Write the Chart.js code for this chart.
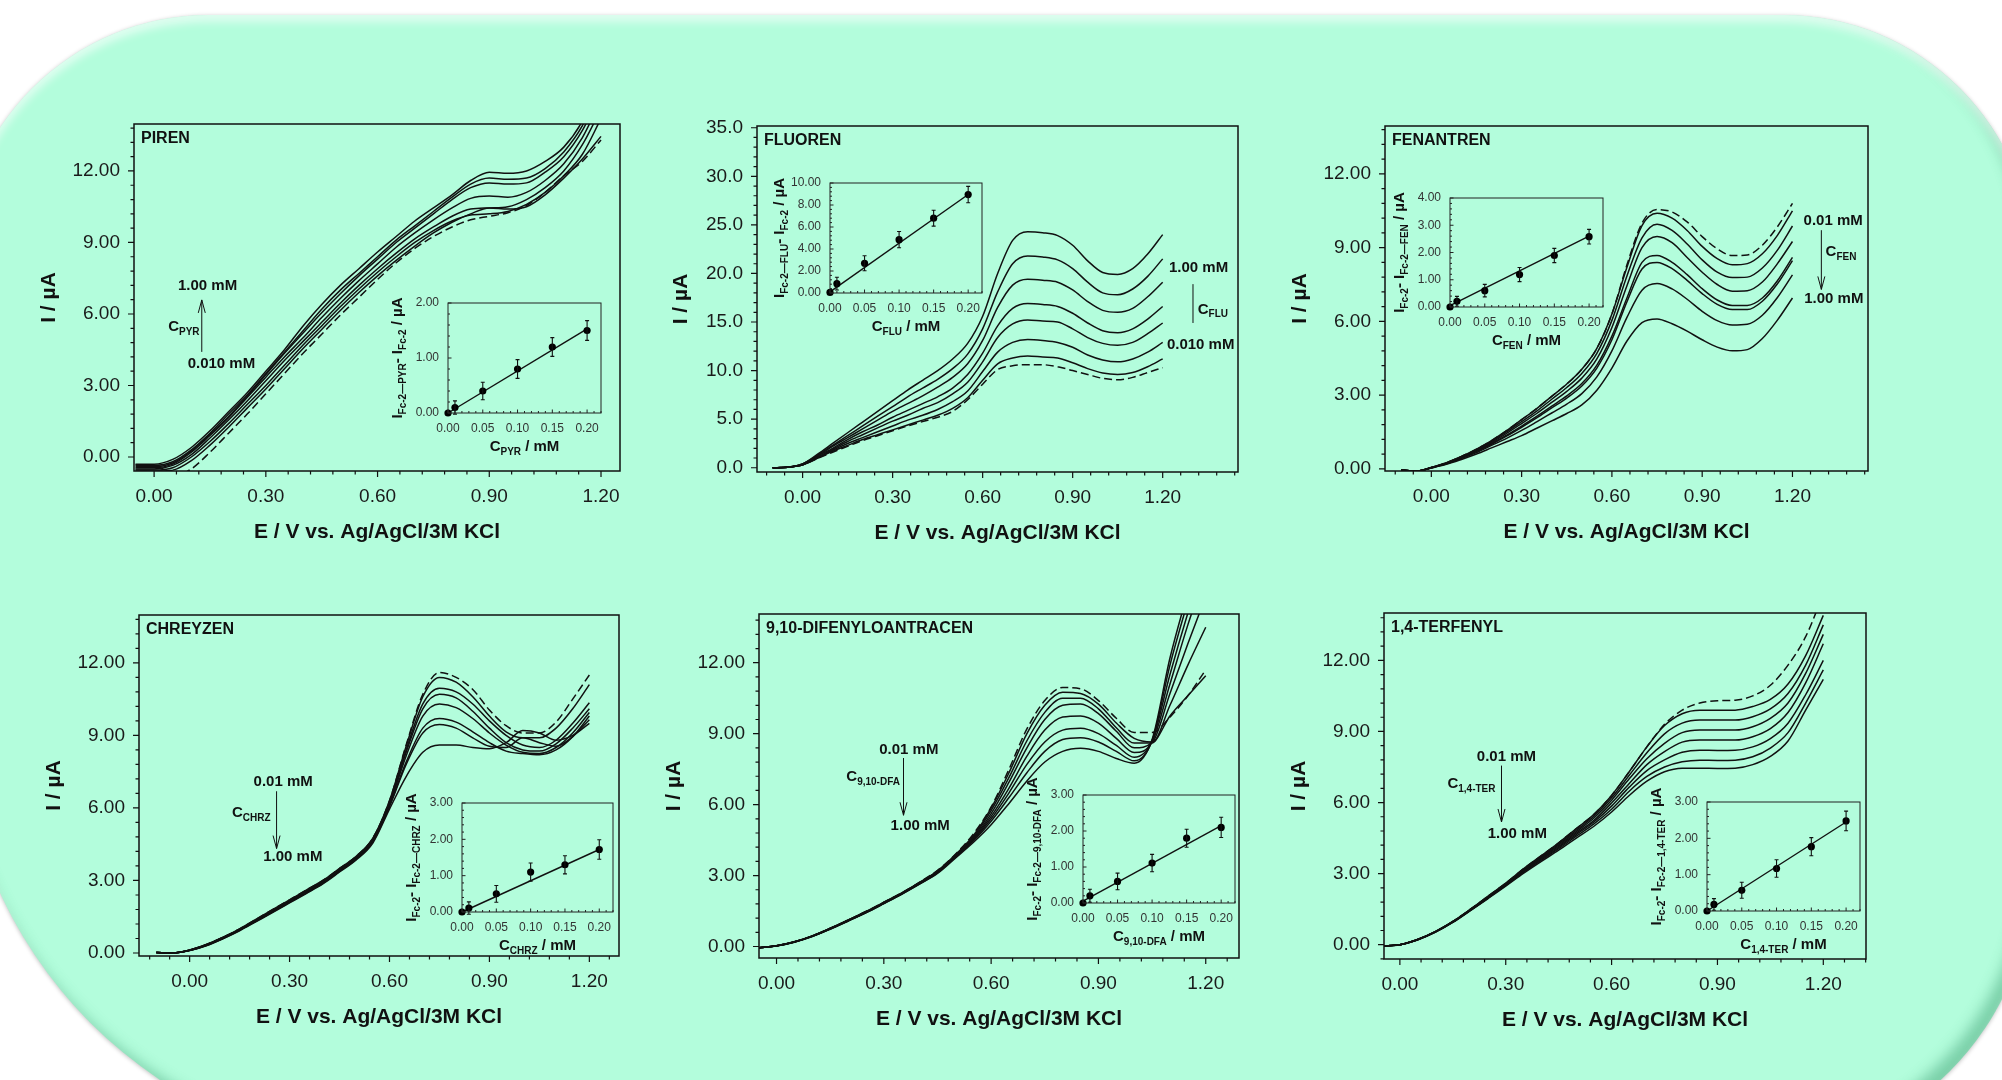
<!DOCTYPE html>
<html>
<head>
<meta charset="utf-8">
<title>Fc-2 PAH voltammograms</title>
<script src="https://cdn.jsdelivr.net/npm/chart.js@4.4.1/dist/chart.umd.min.js"></script>
<style>
  html, body { margin: 0; padding: 0; width: 2002px; height: 1080px; overflow: hidden; background: #fff; }
  #bg { position: absolute; left: -41px; top: 15px; width: 2074px; height: 1140px;
        background: #b3fddc; border-radius: 250px 250px 285px 450px;
        box-shadow: inset 0 7px 9px rgba(255,255,255,0.6), inset -9px -9px 14px rgba(50,150,105,0.45), 0 1px 4px rgba(0,0,0,0.25); }
  canvas { position: absolute; }
</style>
</head>
<body>
<div id="bg"></div>
<script>
const FONT = '"Liberation Sans", Arial, Helvetica, sans-serif';
Chart.defaults.font.family = FONT;
Chart.defaults.color = '#1a1a1a';

// tick labels
const E_TICKS = [0, 0.3, 0.6, 0.9, 1.2];
const I_TICKS = [0, 3, 6, 9, 12];
const I_TICKS_FLU = [0, 5, 10, 15, 20, 25, 30, 35];
const C_TICKS = [0, 0.05, 0.10, 0.15, 0.20];

// PIREN
const E_PIR = [-0.05,0.00,0.05,0.10,0.15,0.20,0.25,0.30,0.35,0.40,0.45,0.50,0.55,0.60,0.65,0.70,0.75,0.80,0.85,0.90,0.95,1.00,1.05,1.10,1.15,1.20];
const PIR_1 = [-0.3,-0.3,-0.1,0.4,1.1,1.9,2.7,3.6,4.5,5.5,6.4,7.2,7.9,8.6,9.25,9.9,10.45,11.0,11.6,11.95,11.9,12.0,12.4,13.0,14.1,16.0];
const PIR_2 = [-0.35,-0.35,-0.2,0.3,1.0,1.8,2.6,3.5,4.4,5.3,6.2,7.0,7.7,8.4,9.1,9.7,10.3,10.9,11.45,11.7,11.65,11.7,12.1,12.8,13.9,15.6];
const PIR_3 = [-0.4,-0.4,-0.25,0.25,0.95,1.7,2.55,3.45,4.35,5.2,6.05,6.85,7.6,8.3,9.0,9.6,10.2,10.8,11.3,11.5,11.45,11.5,11.95,12.6,13.7,15.3];
const PIR_4 = [-0.45,-0.45,-0.3,0.2,0.9,1.65,2.5,3.35,4.2,5.0,5.85,6.65,7.4,8.1,8.8,9.4,9.95,10.45,10.85,10.95,10.9,11.1,11.6,12.3,13.4,15.0];
const PIR_5 = [-0.5,-0.5,-0.35,0.1,0.8,1.55,2.35,3.2,4.05,4.85,5.65,6.45,7.2,7.9,8.55,9.15,9.65,10.1,10.4,10.45,10.5,10.8,11.3,12.0,13.1,14.6];
const PIR_6 = [-0.55,-0.55,-0.45,0.0,0.65,1.4,2.2,3.0,3.85,4.7,5.5,6.3,7.05,7.75,8.4,9.0,9.5,9.9,10.15,10.2,10.3,10.6,11.1,11.8,12.7,14.2];
const PIR_7 = [-0.6,-0.6,-0.55,-0.15,0.5,1.25,2.05,2.85,3.7,4.55,5.35,6.15,6.9,7.6,8.25,8.85,9.4,9.85,10.2,10.45,10.4,10.5,11.0,11.7,12.5,13.45];
const PIR_0 = [-0.95,-0.95,-0.85,-0.5,0.2,1.0,1.8,2.65,3.5,4.35,5.15,5.95,6.7,7.45,8.15,8.75,9.25,9.65,9.95,10.1,10.25,10.55,11.1,11.8,12.4,13.3];

// FLUOREN
const E_FLU = [-0.10,-0.05,0.00,0.05,0.10,0.15,0.20,0.25,0.30,0.35,0.40,0.45,0.50,0.55,0.60,0.65,0.70,0.75,0.80,0.85,0.90,0.95,1.00,1.05,1.10,1.15,1.20];
const FLU_1 = [0,0.05,0.4,1.4,2.5,3.6,4.7,5.8,6.9,8.0,9.0,10.0,11.2,12.8,15.6,20.0,23.4,24.3,24.2,23.9,22.9,21.3,20.1,19.9,20.5,22.0,24.0];
const FLU_2 = [0,0.05,0.4,1.3,2.3,3.3,4.3,5.3,6.3,7.3,8.2,9.1,10.2,11.7,14.3,18.1,21.0,21.8,21.7,21.4,20.5,19.1,18.0,17.8,18.4,19.7,21.5];
const FLU_3 = [0,0.05,0.4,1.2,2.2,3.1,4.0,4.9,5.8,6.6,7.4,8.3,9.3,10.7,13.1,16.5,18.8,19.4,19.3,19.1,18.3,17.1,16.2,16.0,16.4,17.6,19.1];
const FLU_4 = [0,0.05,0.3,1.2,2.0,2.9,3.7,4.4,5.2,5.9,6.6,7.3,8.2,9.6,11.8,14.6,16.4,16.9,16.8,16.6,15.9,14.9,14.1,13.9,14.3,15.3,16.6];
const FLU_5 = [0,0.05,0.3,1.1,1.9,2.7,3.4,4.1,4.8,5.4,6.1,6.7,7.6,8.8,10.9,13.4,14.8,15.2,15.1,15.0,14.3,13.4,12.8,12.6,12.9,13.8,14.9];
const FLU_6 = [0,0.05,0.3,1.0,1.8,2.5,3.1,3.7,4.3,4.9,5.4,6.0,6.8,7.9,9.9,11.9,12.9,13.2,13.1,12.9,12.4,11.6,11.1,10.9,11.2,11.9,12.9];
const FLU_7 = [0,0.05,0.3,1.0,1.7,2.3,2.9,3.4,3.9,4.4,4.9,5.4,6.1,7.2,9.0,10.7,11.3,11.5,11.4,11.3,10.8,10.2,9.75,9.6,9.8,10.4,11.2];
const FLU_0 = [0,0.05,0.3,0.95,1.6,2.2,2.8,3.3,3.8,4.3,4.75,5.2,5.8,7.0,8.6,10.1,10.5,10.6,10.6,10.4,10.0,9.6,9.2,9.05,9.3,9.8,10.3];

// FENANTREN
const E_FEN = [-0.10,-0.05,0.00,0.05,0.10,0.15,0.20,0.25,0.30,0.35,0.40,0.45,0.50,0.55,0.60,0.65,0.70,0.75,0.80,0.85,0.90,0.95,1.00,1.05,1.10,1.15,1.20];
const FEN_0 = [-0.05,-0.1,0.05,0.25,0.5,0.8,1.15,1.55,2.0,2.45,2.95,3.45,4.05,4.9,6.3,8.3,10.0,10.55,10.45,10.05,9.45,8.95,8.68,8.7,9.1,9.85,10.8];
const FEN_1 = [-0.05,-0.1,0.05,0.25,0.5,0.8,1.15,1.55,2.0,2.45,2.95,3.45,4.05,4.9,6.3,8.2,9.9,10.4,10.2,9.7,9.05,8.55,8.3,8.35,8.75,9.5,10.5];
const FEN_2 = [-0.05,-0.1,0.05,0.24,0.49,0.78,1.11,1.5,1.92,2.35,2.83,3.31,3.88,4.7,6.04,7.85,9.4,9.95,9.7,9.15,8.5,8.0,7.78,7.8,8.17,8.9,9.88];
const FEN_3 = [-0.05,-0.1,0.05,0.23,0.47,0.75,1.07,1.44,1.84,2.25,2.7,3.15,3.69,4.47,5.75,7.45,9.0,9.45,9.2,8.6,8.0,7.5,7.23,7.25,7.6,8.35,9.25];
const FEN_4 = [-0.05,-0.1,0.04,0.22,0.45,0.72,1.03,1.37,1.74,2.13,2.55,2.97,3.47,4.22,5.4,6.95,8.4,8.68,8.4,7.9,7.33,6.87,6.65,6.65,6.95,7.65,8.6];
const FEN_5 = [-0.05,-0.1,0.04,0.21,0.44,0.7,1.0,1.33,1.69,2.07,2.48,2.88,3.37,4.1,5.25,6.8,8.13,8.4,8.15,7.67,7.13,6.69,6.48,6.48,6.82,7.53,8.47];
const FEN_6 = [-0.05,-0.1,0.04,0.2,0.42,0.66,0.95,1.24,1.56,1.91,2.27,2.63,3.06,3.74,4.8,6.16,7.27,7.54,7.32,6.9,6.41,6.03,5.85,5.88,6.25,6.97,7.89];
const FEN_7 = [-0.05,-0.1,0.03,0.18,0.38,0.6,0.85,1.1,1.35,1.65,1.95,2.25,2.6,3.2,4.1,5.2,5.95,6.1,5.9,5.6,5.25,4.95,4.8,4.85,5.3,6.05,6.95];

// CHREYZEN
const E_CHR = [-0.10,-0.05,0.00,0.05,0.10,0.15,0.20,0.25,0.30,0.35,0.40,0.45,0.50,0.55,0.60,0.65,0.70,0.75,0.80,0.85,0.90,0.95,1.00,1.05,1.10,1.15,1.20];
const CHR_0 = [0.02,0.0,0.12,0.35,0.65,1.0,1.4,1.8,2.2,2.6,3.0,3.5,4.0,4.75,6.3,8.6,10.7,11.6,11.4,10.9,10.05,9.4,9.1,9.1,9.55,10.5,11.5];
const CHR_1 = [0.02,0.0,0.12,0.35,0.65,1.0,1.4,1.8,2.2,2.6,3.0,3.5,4.0,4.75,6.3,8.55,10.6,11.4,11.2,10.6,9.8,9.15,8.9,8.9,9.3,10.1,11.1];
const CHR_2 = [0.02,0.0,0.12,0.34,0.64,0.98,1.37,1.77,2.17,2.57,2.97,3.46,3.97,4.72,6.25,8.4,10.3,10.95,10.8,10.3,9.6,9.0,8.6,8.5,8.8,9.5,10.35];
const CHR_3 = [0.02,0.0,0.11,0.33,0.63,0.97,1.36,1.76,2.15,2.55,2.95,3.44,3.95,4.7,6.2,8.3,10.1,10.7,10.55,10.0,9.3,8.7,8.4,8.35,8.65,9.3,10.1];
const CHR_4 = [0.02,0.0,0.11,0.33,0.62,0.96,1.35,1.74,2.13,2.53,2.93,3.42,3.93,4.67,6.15,8.15,9.8,10.3,10.15,9.7,9.1,8.6,8.3,8.25,8.5,9.1,9.95];
const CHR_5 = [0.02,0.0,0.11,0.32,0.61,0.95,1.33,1.72,2.11,2.5,2.9,3.4,3.9,4.63,6.1,7.9,9.3,9.7,9.55,9.15,8.7,8.35,8.25,8.2,8.4,8.95,9.8];
const CHR_6 = [0.02,0.0,0.1,0.31,0.6,0.94,1.32,1.7,2.09,2.48,2.88,3.38,3.88,4.6,6.05,7.8,9.1,9.45,9.3,8.9,8.55,8.5,8.9,8.7,8.55,8.95,9.65];
const CHR_7 = [0.02,0.0,0.1,0.3,0.59,0.92,1.3,1.68,2.07,2.46,2.86,3.35,3.85,4.55,5.95,7.3,8.3,8.6,8.6,8.5,8.45,8.7,9.2,9.1,8.8,9.0,9.5];

// 9,10-DIFENYLOANTRACEN
const E_DFA = [-0.05,0.00,0.05,0.10,0.15,0.20,0.25,0.30,0.35,0.40,0.45,0.50,0.55,0.60,0.65,0.70,0.75,0.80,0.85,0.90,0.95,1.00,1.05,1.10,1.15,1.20];
const DFA_0 = [-0.05,0.03,0.2,0.45,0.77,1.12,1.48,1.87,2.27,2.72,3.22,3.9,4.75,5.9,7.5,9.2,10.4,10.95,10.9,10.4,9.65,9.05,9.05,9.7,10.6,11.7];
const DFA_1 = [-0.05,0.03,0.2,0.45,0.77,1.12,1.48,1.87,2.27,2.71,3.2,3.88,4.68,5.85,7.35,9.0,10.2,10.75,10.7,10.25,9.45,8.8,8.65,9.75,10.6,11.45];
const DFA_2 = [-0.05,0.03,0.2,0.45,0.76,1.11,1.47,1.86,2.26,2.7,3.18,3.86,4.63,5.75,7.15,8.7,9.9,10.5,10.5,10.05,9.25,8.6,8.6,10.2,11.9,13.5];
const DFA_3 = [-0.05,0.03,0.2,0.44,0.76,1.1,1.46,1.85,2.25,2.69,3.17,3.84,4.58,5.62,6.95,8.4,9.6,10.2,10.25,9.85,9.1,8.4,8.62,10.7,12.8,14.8];
const DFA_4 = [-0.05,0.03,0.19,0.44,0.75,1.1,1.45,1.84,2.24,2.68,3.15,3.82,4.54,5.5,6.7,8.05,9.15,9.7,9.75,9.45,8.8,8.2,8.65,11.1,13.6,15.8];
const DFA_5 = [-0.05,0.03,0.19,0.43,0.75,1.09,1.44,1.83,2.23,2.66,3.13,3.79,4.5,5.4,6.5,7.7,8.65,9.15,9.23,9.0,8.5,8.0,8.7,11.5,14.1,16.5];
const DFA_6 = [-0.05,0.02,0.19,0.43,0.74,1.08,1.43,1.82,2.22,2.65,3.11,3.77,4.46,5.3,6.3,7.35,8.25,8.75,8.83,8.65,8.25,7.85,8.7,11.9,14.6,17.2];
const DFA_7 = [-0.05,0.02,0.18,0.42,0.73,1.07,1.42,1.81,2.21,2.64,3.09,3.74,4.4,5.15,6.05,7.0,7.8,8.25,8.38,8.25,7.95,7.75,8.75,12.2,15.0,17.8];

// 1,4-TERFENYL
const E_TER = [-0.05,0.00,0.05,0.10,0.15,0.20,0.25,0.30,0.35,0.40,0.45,0.50,0.55,0.60,0.65,0.70,0.75,0.80,0.85,0.90,0.95,1.00,1.05,1.10,1.15,1.20];
const TER_0 = [-0.05,0.0,0.22,0.55,0.98,1.5,2.05,2.6,3.2,3.75,4.3,4.9,5.5,6.3,7.3,8.35,9.3,9.9,10.2,10.3,10.32,10.5,10.95,11.8,13.0,14.8];
const TER_1 = [-0.05,0.0,0.22,0.55,0.98,1.5,2.05,2.6,3.2,3.75,4.3,4.9,5.5,6.3,7.3,8.35,9.25,9.75,9.9,9.9,9.9,10.05,10.35,11.0,12.2,13.9];
const TER_2 = [-0.05,0.0,0.22,0.55,0.97,1.49,2.03,2.58,3.17,3.71,4.25,4.83,5.42,6.2,7.15,8.1,8.9,9.35,9.48,9.48,9.48,9.62,9.95,10.6,11.8,13.5];
const TER_3 = [-0.05,0.0,0.22,0.54,0.97,1.48,2.02,2.56,3.14,3.68,4.2,4.77,5.35,6.1,7.0,7.85,8.5,8.95,9.06,9.06,9.06,9.2,9.55,10.2,11.45,13.1];
const TER_4 = [-0.05,0.0,0.21,0.54,0.96,1.47,2.0,2.54,3.11,3.64,4.15,4.71,5.25,5.98,6.8,7.6,8.15,8.55,8.64,8.64,8.64,8.78,9.12,9.8,11.05,12.7];
const TER_5 = [-0.05,0.0,0.21,0.53,0.95,1.46,1.98,2.52,3.08,3.6,4.1,4.65,5.18,5.85,6.65,7.35,7.8,8.12,8.21,8.2,8.21,8.35,8.7,9.35,10.55,12.0];
const TER_6 = [-0.05,0.0,0.21,0.53,0.95,1.45,1.97,2.5,3.05,3.56,4.05,4.58,5.1,5.72,6.48,7.1,7.5,7.72,7.79,7.78,7.79,7.93,8.3,8.95,10.2,11.6];
const TER_7 = [-0.05,0.0,0.2,0.52,0.94,1.44,1.95,2.47,3.01,3.51,3.99,4.5,5.0,5.6,6.3,6.9,7.3,7.45,7.45,7.44,7.45,7.6,7.95,8.6,9.9,11.2];

// calibration insets
const CONC = [0, 0.01, 0.05, 0.10, 0.15, 0.20];
const FIT_C = [0, 0.20];
const PYR_PTS = [0, 0.1, 0.4, 0.8, 1.2, 1.5];
const PYR_ERR = [0, 0.12, 0.16, 0.17, 0.17, 0.18];
const PYR_FIT = [0.0, 1.53];
const FLU_PTS = [0.05, 0.85, 2.7, 4.85, 6.8, 8.95];
const FLU_ERR = [0, 0.58, 0.68, 0.74, 0.72, 0.74];
const FLU_FIT = [0.1, 8.95];
const FEN_PTS = [0, 0.21, 0.6, 1.19, 1.89, 2.58];
const FEN_ERR = [0, 0.18, 0.23, 0.26, 0.26, 0.27];
const FEN_FIT = [0.05, 2.6];
const CHR_PTS = [0, 0.11, 0.5, 1.1, 1.3, 1.72];
const CHR_ERR = [0, 0.17, 0.23, 0.25, 0.25, 0.27];
const CHR_FIT = [0.0, 1.72];
const DFA_PTS = [0, 0.2, 0.6, 1.11, 1.8, 2.1];
const DFA_ERR = [0, 0.18, 0.23, 0.24, 0.25, 0.28];
const DFA_FIT = [0.05, 2.15];
const TER_PTS = [0, 0.18, 0.57, 1.17, 1.77, 2.48];
const TER_ERR = [0, 0.16, 0.22, 0.24, 0.25, 0.27];
const TER_FIT = [0.0, 2.45];

function mk(f, L, T, R, B) {
  const c = document.createElement('canvas');
  c.width = f.r - f.l + L + R;
  c.height = f.b - f.t + T + B;
  c.style.left = (f.l - L) + 'px';
  c.style.top = (f.t - T) + 'px';
  document.body.appendChild(c);
  return c;
}

function eachStep(min, max, step, major, fn) {
  const k0 = Math.ceil(min / step - 1e-6), k1 = Math.floor(max / step + 1e-6);
  for (let k = k0; k <= k1; k++) {
    const v = k * step, r = v / major;
    fn(v, Math.abs(r - Math.round(r)) < 1e-6);
  }
}

function rich(ctx, x, y, parts, align) {
  let w = 0;
  parts.forEach(p => { ctx.font = 'bold ' + p[1] + 'px ' + FONT; w += ctx.measureText(p[0]).width; });
  let cx = align === 'right' ? x - w : align === 'center' ? x - w / 2 : x;
  ctx.textAlign = 'left';
  ctx.textBaseline = 'middle';
  parts.forEach(p => {
    ctx.font = 'bold ' + p[1] + 'px ' + FONT;
    ctx.fillText(p[0], cx, y + (p[2] || 0));
    cx += ctx.measureText(p[0]).width;
  });
}

function panelPlugin(p) {
  return {
    id: 'panel',
    afterDraw(chart) {
      const {ctx, chartArea: a, scales: {x, y}} = chart;
      ctx.save();
      ctx.strokeStyle = '#111';
      ctx.lineWidth = 1.5;
      ctx.strokeRect(a.left, a.top, a.right - a.left, a.bottom - a.top);
      ctx.lineWidth = 1.2;
      ctx.beginPath();
      eachStep(x.min, x.max, 0.06, 0.3, (v, major) => {
        const px = x.getPixelForValue(v);
        ctx.moveTo(px, a.bottom);
        ctx.lineTo(px, a.bottom + (major ? 6 : 3.5));
      });
      eachStep(y.min, y.max, p.yMinor, p.yMajor, (v, major) => {
        const py = y.getPixelForValue(v);
        ctx.moveTo(a.left, py);
        ctx.lineTo(a.left - (major ? 6 : 3.5), py);
      });
      ctx.stroke();

      ctx.fillStyle = '#111';
      ctx.font = 'bold 16px ' + FONT;
      ctx.textAlign = 'left';
      ctx.textBaseline = 'middle';
      ctx.fillText(p.title, a.left + 7, a.top + 15);

      ctx.lineWidth = 1;
      p.notes.forEach(n => {
        const X = x.getPixelForValue(n.x);
        if (n.t === 'txt') {
          ctx.font = 'bold 15px ' + FONT;
          ctx.textAlign = 'left';
          ctx.textBaseline = 'middle';
          ctx.fillText(n.s, X, y.getPixelForValue(n.y));
        } else if (n.t === 'sub') {
          rich(ctx, X, y.getPixelForValue(n.y), [['C', 15], [n.sub, 10, 5]], n.a);
        } else if (n.t === 'arr') {
          const Y1 = y.getPixelForValue(n.y1), Y2 = y.getPixelForValue(n.y2);
          ctx.beginPath();
          ctx.moveTo(X, Y1);
          ctx.lineTo(X, Y2);
          if (n.head) {
            const d = Math.sign(Y2 - Y1);
            ctx.moveTo(X - 3.5, Y2 - d * 13);
            ctx.lineTo(X, Y2);
            ctx.lineTo(X + 3.5, Y2 - d * 13);
          }
          ctx.stroke();
        }
      });
      ctx.restore();
    }
  };
}

function mainChart(p) {
  const L = 98, T = 30, R = 24, B = 80;
  const cv = mk(p.frame, L, T, R, B);
  const last = p.curves.length - 1;
  const sets = p.curves.map((ys, k) => ({
    data: p.xs.map((e, i) => ({x: e, y: ys[i]})),
    borderColor: '#111',
    borderWidth: 1.5,
    borderDash: k === last ? [8, 4] : [],
    pointRadius: 0,
    cubicInterpolationMode: 'monotone',
    fill: false
  }));
  new Chart(cv, {
    type: 'line',
    data: {datasets: sets},
    options: {
      responsive: false, animation: false, devicePixelRatio: 1,
      layout: {padding: {left: 0, top: T, right: R, bottom: 0}},
      plugins: {legend: {display: false}, tooltip: {enabled: false}},
      scales: {
        x: {
          type: 'linear', min: p.xr[0], max: p.xr[1],
          afterFit: s => { s.height = B; },
          afterBuildTicks: s => { s.ticks = E_TICKS.map(v => ({value: v})); },
          ticks: {autoSkip: false, maxRotation: 0, padding: 14, font: {size: 19}, color: '#1a1a1a',
                  callback: v => v.toFixed(2)},
          grid: {display: false, drawTicks: false},
          border: {display: false},
          title: {display: true, text: 'E / V vs. Ag/AgCl/3M KCl', color: '#111',
                  font: {size: 21, weight: 'bold'}, padding: {top: 0, bottom: 6.4}}
        },
        y: {
          type: 'linear', min: p.yr[0], max: p.yr[1],
          afterFit: s => { s.width = L; },
          afterBuildTicks: s => { s.ticks = p.yTicks.map(v => ({value: v})); },
          ticks: {autoSkip: false, padding: 14, font: {size: 19}, color: '#1a1a1a',
                  callback: v => v.toFixed(p.yDec)},
          grid: {display: false, drawTicks: false},
          border: {display: false},
          title: {display: true, text: 'I / µA', color: '#111',
                  font: {size: 21, weight: 'bold'}, padding: {top: p.yTitlePad, bottom: 0}}
        }
      }
    },
    plugins: [panelPlugin(p)]
  });
}

function insetPlugin(p) {
  return {
    id: 'inset',
    afterDatasetsDraw(chart) {
      const {ctx, scales: {y}} = chart;
      const meta = chart.getDatasetMeta(0);
      ctx.save();
      ctx.strokeStyle = '#111';
      ctx.lineWidth = 1.1;
      ctx.beginPath();
      meta.data.forEach((pt, i) => {
        const e = p.err[i];
        if (!e) return;
        const y1 = y.getPixelForValue(p.pts[i] + e), y2 = y.getPixelForValue(p.pts[i] - e);
        ctx.moveTo(pt.x, y1); ctx.lineTo(pt.x, y2);
        ctx.moveTo(pt.x - 2, y1); ctx.lineTo(pt.x + 2, y1);
        ctx.moveTo(pt.x - 2, y2); ctx.lineTo(pt.x + 2, y2);
      });
      ctx.stroke();
      ctx.restore();
    },
    afterDraw(chart) {
      const {ctx, chartArea: a, scales: {x, y}} = chart;
      ctx.save();
      ctx.strokeStyle = '#222';
      ctx.lineWidth = 1;
      ctx.strokeRect(a.left, a.top, a.right - a.left, a.bottom - a.top);
      ctx.beginPath();
      eachStep(x.min, x.max, 0.01, 0.05, (v, major) => {
        const px = x.getPixelForValue(v);
        ctx.moveTo(px, a.bottom);
        ctx.lineTo(px, a.bottom - (major ? 3.5 : 2));
      });
      const ym = p.yTicks[1] - p.yTicks[0];
      eachStep(y.min, y.max, ym / 5, ym, (v, major) => {
        const py = y.getPixelForValue(v);
        ctx.moveTo(a.left, py);
        ctx.lineTo(a.left + (major ? 3.5 : 2), py);
      });
      ctx.stroke();
      ctx.fillStyle = '#111';
      rich(ctx, (a.left + a.right) / 2, a.bottom + 34, [['C', 15], [p.xsub, 10, 5], [' / mM', 15]], 'center');
      ctx.translate(a.left - 50, (a.top + a.bottom) / 2);
      ctx.rotate(-Math.PI / 2);
      rich(ctx, 0, 0, p.ylab, 'center');
      ctx.restore();
    }
  };
}

function insetChart(p) {
  const L = 62, T = 24, R = 18, B = 46;
  const cv = mk(p.frame, L, T, R, B);
  new Chart(cv, {
    type: 'line',
    data: {datasets: [
      {data: CONC.map((c, i) => ({x: c, y: p.pts[i]})), showLine: false, pointRadius: 3.6,
       pointBackgroundColor: '#000', pointBorderWidth: 0, clip: false},
      {data: FIT_C.map((c, i) => ({x: c, y: p.fit[i]})), borderColor: '#111', borderWidth: 1.4,
       pointRadius: 0, clip: false}
    ]},
    options: {
      responsive: false, animation: false, devicePixelRatio: 1,
      layout: {padding: {left: 0, top: T, right: R, bottom: 0}},
      plugins: {legend: {display: false}, tooltip: {enabled: false}},
      scales: {
        x: {
          type: 'linear', min: 0, max: 0.22,
          afterFit: s => { s.height = B; },
          afterBuildTicks: s => { s.ticks = C_TICKS.map(v => ({value: v})); },
          ticks: {autoSkip: false, maxRotation: 0, padding: 8, font: {size: 12}, color: '#333',
                  callback: v => v.toFixed(2)},
          grid: {display: false, drawTicks: false},
          border: {display: false}
        },
        y: {
          type: 'linear', min: p.yr[0], max: p.yr[1],
          afterFit: s => { s.width = L; },
          afterBuildTicks: s => { s.ticks = p.yTicks.map(v => ({value: v})); },
          ticks: {autoSkip: false, padding: 9, font: {size: 12}, color: '#333',
                  callback: v => v.toFixed(2)},
          grid: {display: false, drawTicks: false},
          border: {display: false}
        }
      }
    },
    plugins: [insetPlugin(p)]
  });
}

function ylabA(sub) { return [['I', 15], [sub, 10, 5], ['- ', 15], ['I', 15], ['Fc-2', 10, 5], [' / µA', 15]]; }
function ylabB(sub) { return [['I', 15], ['Fc-2', 10, 5], ['- ', 15], ['I', 15], [sub, 10, 5], [' / µA', 15]]; }

const panels = [
  {title: 'PIREN', frame: {l: 134, t: 124, r: 620, b: 471}, xr: [-0.054, 1.251], yr: [-0.587, 13.97],
   yTicks: I_TICKS, yDec: 2, yMajor: 3, yMinor: 0.6, yTitlePad: 0.4,
   xs: E_PIR, curves: [PIR_1, PIR_2, PIR_3, PIR_4, PIR_5, PIR_6, PIR_7, PIR_0],
   notes: [{t: 'txt', x: 0.064, y: 7.19, s: '1.00 mM'},
           {t: 'arr', x: 0.128, y1: 4.41, y2: 6.59, head: true},
           {t: 'sub', x: 0.122, y: 5.46, sub: 'PYR', a: 'right'},
           {t: 'txt', x: 0.09, y: 3.89, s: '0.010 mM'}]},
  {title: 'FLUOREN', frame: {l: 757, t: 126, r: 1238, b: 472}, xr: [-0.152, 1.451], yr: [-0.44, 35.18],
   yTicks: I_TICKS_FLU, yDec: 1, yMajor: 5, yMinor: 1, yTitlePad: 9.4,
   xs: E_FLU, curves: [FLU_1, FLU_2, FLU_3, FLU_4, FLU_5, FLU_6, FLU_7, FLU_0],
   notes: [{t: 'txt', x: 1.221, y: 20.6, s: '1.00 mM'},
           {t: 'arr', x: 1.301, y1: 18.9, y2: 14.9, head: false},
           {t: 'sub', x: 1.317, y: 16.3, sub: 'FLU', a: 'left'},
           {t: 'txt', x: 1.214, y: 12.6, s: '0.010 mM'}]},
  {title: 'FENANTREN', frame: {l: 1385, t: 126, r: 1868, b: 471}, xr: [-0.154, 1.451], yr: [-0.09, 13.95],
   yTicks: I_TICKS, yDec: 2, yMajor: 3, yMinor: 0.6, yTitlePad: 0.4,
   xs: E_FEN, curves: [FEN_1, FEN_2, FEN_3, FEN_4, FEN_5, FEN_6, FEN_7, FEN_0],
   notes: [{t: 'txt', x: 1.237, y: 10.09, s: '0.01 mM'},
           {t: 'arr', x: 1.296, y1: 9.71, y2: 7.3, head: true},
           {t: 'sub', x: 1.31, y: 8.83, sub: 'FEN', a: 'left'},
           {t: 'txt', x: 1.239, y: 6.91, s: '1.00 mM'}]},
  {title: 'CHREYZEN', frame: {l: 139, t: 615, r: 619, b: 956}, xr: [-0.152, 1.289], yr: [-0.124, 13.98],
   yTicks: I_TICKS, yDec: 2, yMajor: 3, yMinor: 0.6, yTitlePad: 0.4,
   xs: E_CHR, curves: [CHR_1, CHR_2, CHR_3, CHR_4, CHR_5, CHR_6, CHR_7, CHR_0],
   notes: [{t: 'txt', x: 0.192, y: 7.09, s: '0.01 mM'},
           {t: 'arr', x: 0.261, y1: 6.69, y2: 4.32, head: true},
           {t: 'sub', x: 0.243, y: 5.79, sub: 'CHRZ', a: 'right'},
           {t: 'txt', x: 0.221, y: 3.96, s: '1.00 mM'}]},
  {title: '9,10-DIFENYLOANTRACEN', frame: {l: 759, t: 614, r: 1239, b: 958}, xr: [-0.049, 1.293], yr: [-0.486, 14.06],
   yTicks: I_TICKS, yDec: 2, yMajor: 3, yMinor: 0.6, yTitlePad: 0.4,
   xs: E_DFA, curves: [DFA_1, DFA_2, DFA_3, DFA_4, DFA_5, DFA_6, DFA_7, DFA_0],
   notes: [{t: 'txt', x: 0.287, y: 8.32, s: '0.01 mM'},
           {t: 'arr', x: 0.355, y1: 7.97, y2: 5.55, head: true},
           {t: 'sub', x: 0.345, y: 7.16, sub: '9,10-DFA', a: 'right'},
           {t: 'txt', x: 0.319, y: 5.12, s: '1.00 mM'}]},
  {title: '1,4-TERFENYL', frame: {l: 1384, t: 613, r: 1866, b: 959}, xr: [-0.045, 1.321], yr: [-0.603, 14.0],
   yTicks: I_TICKS, yDec: 2, yMajor: 3, yMinor: 0.6, yTitlePad: 0.4,
   xs: E_TER, curves: [TER_1, TER_2, TER_3, TER_4, TER_5, TER_6, TER_7, TER_0],
   notes: [{t: 'txt', x: 0.218, y: 7.91, s: '0.01 mM'},
           {t: 'arr', x: 0.288, y1: 7.56, y2: 5.18, head: true},
           {t: 'sub', x: 0.271, y: 6.77, sub: '1,4-TER', a: 'right'},
           {t: 'txt', x: 0.249, y: 4.69, s: '1.00 mM'}]}
];

const insets = [
  {frame: {l: 448, t: 303, r: 601, b: 413}, yr: [0, 2], yTicks: [0, 1, 2],
   pts: PYR_PTS, err: PYR_ERR, fit: PYR_FIT, xsub: 'PYR', ylab: ylabA('Fc-2—PYR')},
  {frame: {l: 830, t: 183, r: 982, b: 293}, yr: [0, 10], yTicks: [0, 2, 4, 6, 8, 10],
   pts: FLU_PTS, err: FLU_ERR, fit: FLU_FIT, xsub: 'FLU', ylab: ylabA('Fc-2—FLU')},
  {frame: {l: 1450, t: 198, r: 1603, b: 307}, yr: [0, 4], yTicks: [0, 1, 2, 3, 4],
   pts: FEN_PTS, err: FEN_ERR, fit: FEN_FIT, xsub: 'FEN', ylab: ylabB('Fc-2—FEN')},
  {frame: {l: 462, t: 803, r: 613, b: 912}, yr: [0, 3], yTicks: [0, 1, 2, 3],
   pts: CHR_PTS, err: CHR_ERR, fit: CHR_FIT, xsub: 'CHRZ', ylab: ylabB('Fc-2—CHRZ')},
  {frame: {l: 1083, t: 795, r: 1235, b: 903}, yr: [0, 3], yTicks: [0, 1, 2, 3],
   pts: DFA_PTS, err: DFA_ERR, fit: DFA_FIT, xsub: '9,10-DFA', ylab: ylabB('Fc-2—9,10-DFA')},
  {frame: {l: 1707, t: 802, r: 1860, b: 911}, yr: [0, 3], yTicks: [0, 1, 2, 3],
   pts: TER_PTS, err: TER_ERR, fit: TER_FIT, xsub: '1,4-TER', ylab: ylabB('Fc-2—1,4-TER')}
];

panels.forEach(mainChart);
insets.forEach(insetChart);
</script>
</body>
</html>
